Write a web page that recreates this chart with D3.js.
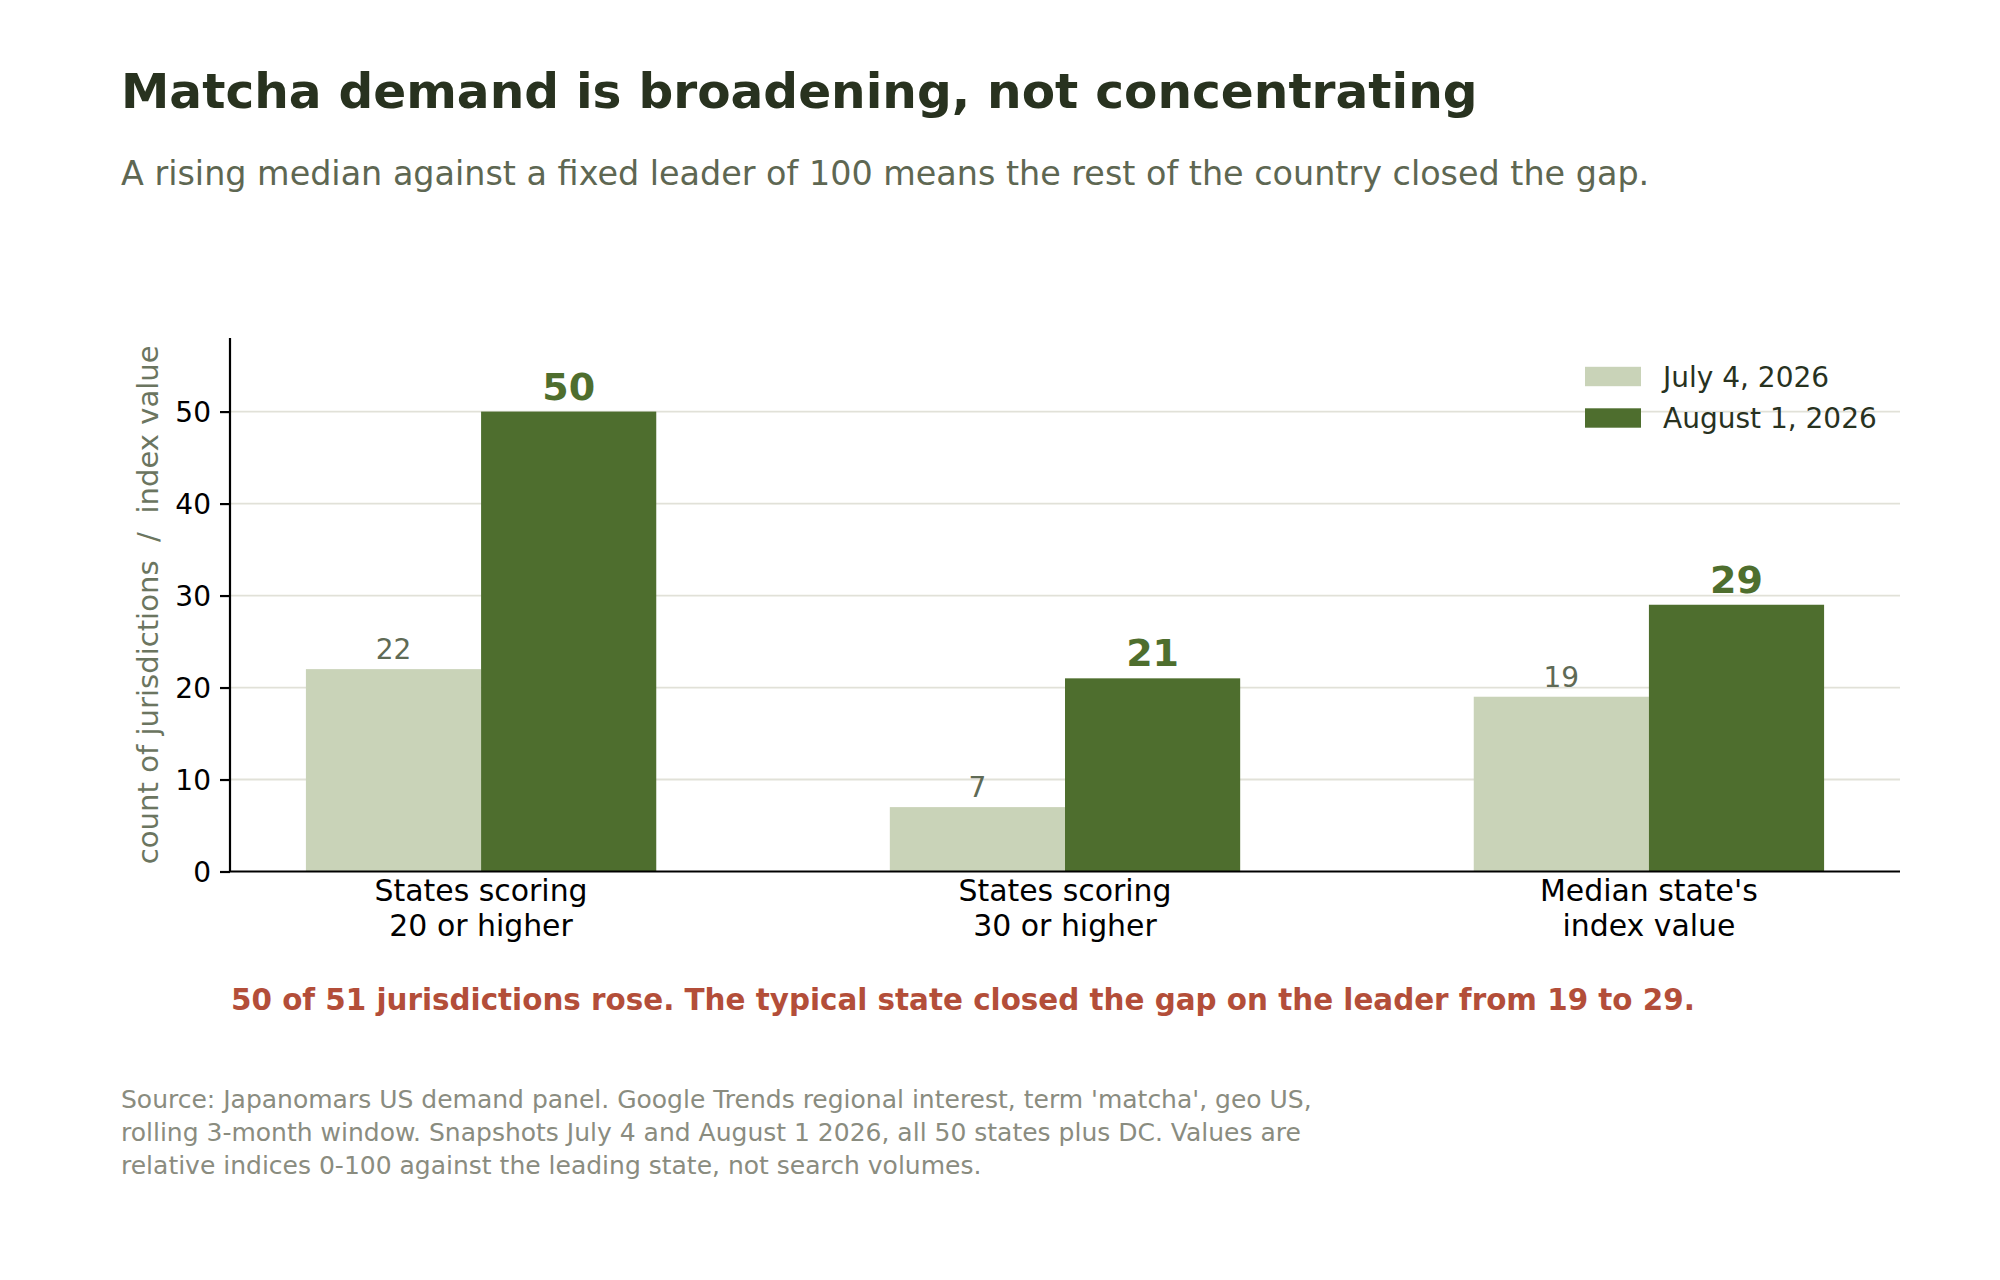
<!DOCTYPE html>
<html>
<head>
<meta charset="utf-8">
<script src="https://cdn.jsdelivr.net/npm/d3@7"></script>
<style>
  body { margin: 0; background: #fff; }
  svg text { font-family: "DejaVu Sans", sans-serif; }
</style>
</head>
<body>
<div id="chart"></div>
<script>
// data
var categories = ["States scoring\n20 or higher", "States scoring\n30 or higher", "Median state's\nindex value"];
var seriesNames = ["July 4, 2026", "August 1, 2026"];
var julyValues = [22, 7, 19];
var augustValues = [50, 21, 29];
var yTicks = [0, 10, 20, 30, 40, 50];

var W = 2000, H = 1280;
var plotLeft = 230, plotRight = 1900, plotTop = 338, plotBottom = 871.5;

var colLight = "#c9d3b8", colDark = "#4e6e2e";

var svg = d3.select("#chart").append("svg")
  .attr("width", W).attr("height", H);

svg.append("rect").attr("width", W).attr("height", H).attr("fill", "#fff");

// title + subtitle
svg.append("text")
  .attr("x", 121).attr("y", 108)
  .attr("fill", "#28321f")
  .attr("font-weight", "bold")
  .attr("font-size", "48.6px")
  .text("Matcha demand is broadening, not concentrating");

svg.append("text")
  .attr("x", 121).attr("y", 185)
  .attr("fill", "#5e6752")
  .attr("font-size", "33.4px")
  .text("A rising median against a fixed leader of 100 means the rest of the country closed the gap.");

// scales
var x = d3.scaleLinear().domain([-0.43, 2.43]).range([plotLeft, plotRight]);
var y = d3.scaleLinear().domain([0, 58]).range([plotBottom, plotTop]);
var barW = x(0.3) - x(0);

var g = svg.append("g");

// grid
g.selectAll(".grid").data(yTicks.slice(1)).enter()
  .append("line")
  .attr("x1", plotLeft).attr("x2", plotRight)
  .attr("y1", d => y(d)).attr("y2", d => y(d))
  .attr("stroke", "#e1e1d8")
  .attr("stroke-width", 1.8);

// bars
var rows = categories.map((c, i) => ({ i: i, jul: julyValues[i], aug: augustValues[i] }));

g.selectAll(".bar-jul").data(rows).enter()
  .append("rect")
  .attr("x", d => x(d.i - 0.3))
  .attr("y", d => y(d.jul))
  .attr("width", barW)
  .attr("height", d => y(0) - y(d.jul))
  .attr("fill", colLight);

g.selectAll(".bar-aug").data(rows).enter()
  .append("rect")
  .attr("x", d => x(d.i))
  .attr("y", d => y(d.aug))
  .attr("width", barW)
  .attr("height", d => y(0) - y(d.aug))
  .attr("fill", colDark);

// value labels
g.selectAll(".lab-jul").data(rows).enter()
  .append("text")
  .attr("x", d => x(d.i - 0.15))
  .attr("y", d => y(d.jul) - 10)
  .attr("text-anchor", "middle")
  .attr("fill", "#5f6a55")
  .attr("font-size", "28px")
  .text(d => d.jul);

g.selectAll(".lab-aug").data(rows).enter()
  .append("text")
  .attr("x", d => x(d.i + 0.15))
  .attr("y", d => y(d.aug) - 12)
  .attr("text-anchor", "middle")
  .attr("fill", colDark)
  .attr("font-weight", "bold")
  .attr("font-size", "38px")
  .text(d => d.aug);

// y axis
var yAxis = g.append("g")
  .attr("transform", "translate(" + plotLeft + ",0)")
  .call(d3.axisLeft(y).tickValues(yTicks).tickSize(10).tickPadding(9));
yAxis.select(".domain").attr("stroke", "#000").attr("stroke-width", 2.2)
  .attr("d", "M0," + plotTop + "V" + plotBottom);
yAxis.selectAll(".tick line").attr("stroke", "#000").attr("stroke-width", 2.2);
yAxis.selectAll(".tick text")
  .attr("font-size", "28px")
  .attr("font-family", "DejaVu Sans, sans-serif")
  .attr("fill", "#000")
  .attr("dy", "0.36em");

// x axis
var xAxis = g.append("g")
  .attr("transform", "translate(0," + plotBottom + ")")
  .call(d3.axisBottom(x).tickValues([0, 1, 2]).tickSize(0).tickFormat(""));
xAxis.select(".domain").attr("stroke", "#000").attr("stroke-width", 2.2)
  .attr("d", "M" + plotLeft + ",0H" + plotRight);

// category labels, two lines each
var catLab = g.selectAll(".cat").data(categories).enter()
  .append("text")
  .attr("text-anchor", "middle")
  .attr("fill", "#000")
  .attr("font-size", "29.9px");
catLab.each(function(d, i) {
  var t = d3.select(this);
  d.split("\n").forEach(function(line, k) {
    t.append("tspan")
      .attr("x", x(i))
      .attr("y", 901 + k * 35)
      .text(line);
  });
});

// y label
svg.append("text")
  .attr("transform", "translate(158," + ((plotTop + plotBottom) / 2) + ") rotate(-90)")
  .attr("text-anchor", "middle")
  .attr("fill", "#6b7560")
  .attr("font-size", "29.1px")
  .attr("xml:space", "preserve")
  .style("white-space", "pre")
  .text("count of jurisdictions  /  index value");

// legend
var leg = svg.append("g");
[colLight, colDark].forEach(function(c, i) {
  var cy = 376.5 + i * 41.5;
  leg.append("rect")
    .attr("x", 1585).attr("y", cy - 9.7)
    .attr("width", 56).attr("height", 19.4)
    .attr("fill", c);
  leg.append("text")
    .attr("x", 1663).attr("y", cy + 10)
    .attr("fill", "#28321f")
    .attr("font-size", "28px")
    .text(seriesNames[i]);
});

// annotation
svg.append("text")
  .attr("x", 231).attr("y", 1010)
  .attr("fill", "#b34e39")
  .attr("font-weight", "bold")
  .attr("font-size", "29.4px")
  .text("50 of 51 jurisdictions rose. The typical state closed the gap on the leader from 19 to 29.");

// source note
var notes = [
  "Source: Japanomars US demand panel. Google Trends regional interest, term 'matcha', geo US,",
  "rolling 3-month window. Snapshots July 4 and August 1 2026, all 50 states plus DC. Values are",
  "relative indices 0-100 against the leading state, not search volumes."
];
svg.append("g").selectAll("text").data(notes).enter()
  .append("text")
  .attr("x", 121)
  .attr("y", (d, i) => 1108 + i * 33)
  .attr("fill", "#8a8c7f")
  .attr("font-size", "25px")
  .text(d => d);
</script>
</body>
</html>
